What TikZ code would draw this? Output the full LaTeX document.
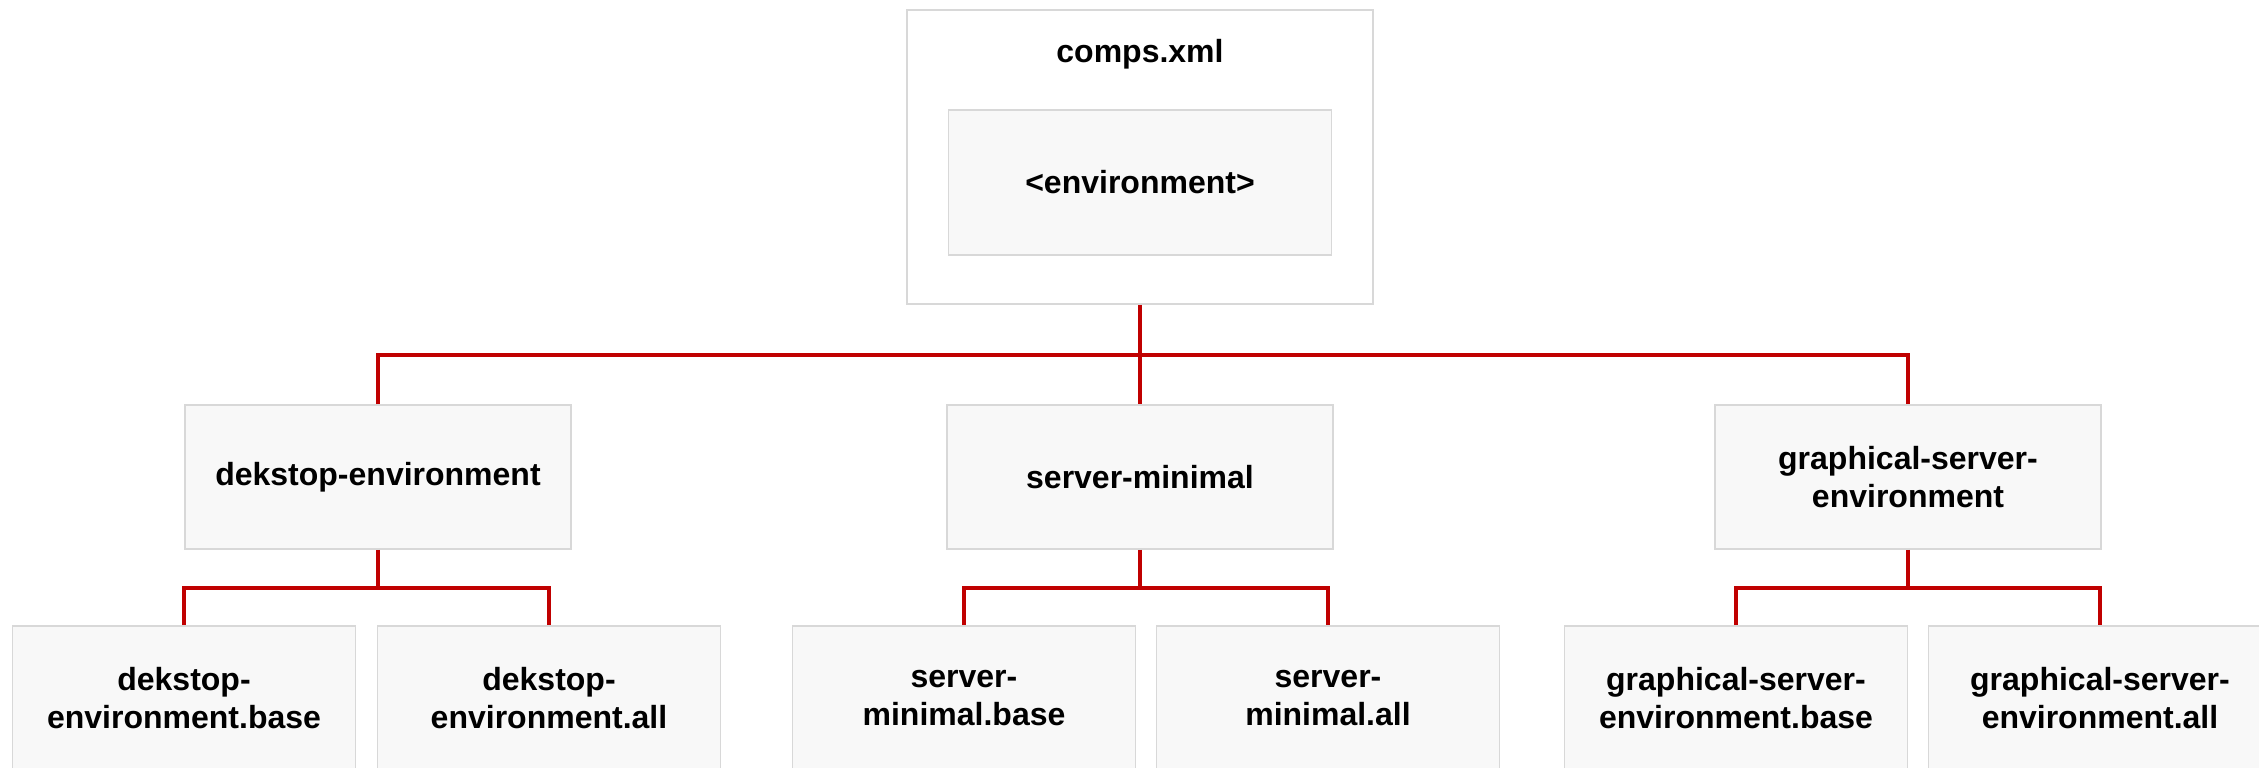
\documentclass[tikz,border=0pt]{standalone}
\usepackage{fontspec}
\setmainfont{Liberation Sans}
\usetikzlibrary{positioning}

\definecolor{boxgray}{HTML}{D8D8D8}
\definecolor{boxfill}{HTML}{F8F8F8}
\definecolor{linkred}{HTML}{C00000}

\def\boxfont{\fontsize{9.1}{10.8}\selectfont\bfseries}
\tikzset{
  env/.style={draw=boxgray,line width=.5pt,fill=boxfill,minimum width=3.86cm,minimum height=1.44cm,inner sep=0pt,align=center,font=\boxfont},
  pkg/.style={env,minimum width=3.43cm},
  link/.style={draw=linkred,line width=1.1pt}
}

\begin{document}
\begin{tikzpicture}[x=0.01cm,y=-0.01cm]
  \path[use as bounding box,clip] (0,0) rectangle (2259,768);
  % comps.xml
  \node[draw=boxgray,line width=.5pt,fill=white,minimum width=4.66cm,minimum height=2.94cm] (comps) at (1140,157) {};
  \node[font=\boxfont,anchor=base] (compstitle) at (1140,63) {comps.xml};
  \node[env,minimum width=3.83cm,minimum height=1.45cm] (envtag) at (1140,182.5) {<environment>};
  % environments
  \node[env] (desktop) at (378,477) {dekstop-environment};
  \node[env] (server) at (1140,477) {server-minimal};
  \node[env] (graphical) at (1908,477) {graphical-server-\\environment};
  % groups
  \foreach \name/\x/\txt in {desktopbase/184/{dekstop-\\environment.base},desktopall/549/{dekstop-\\environment.all},
                             serverbase/964/{server-\\minimal.base},serverall/1328/{server-\\minimal.all},
                             graphicalbase/1736/{graphical-server-\\environment.base},graphicalall/2100/{graphical-server-\\environment.all}} {
    \node[pkg] (\name) at (\x,698) {\txt};
  }
  \coordinate (topbus) at (1140,355);
  \coordinate (lowbus) at (0,588);
  \draw[link] (comps.south) -- (server.north);
  \draw[link] (desktop.north) |- (topbus) -| (graphical.north);
  \foreach \p in {desktop,server,graphical} {
    \draw[link] (\p.south) -- (\p.south |- lowbus);
    \draw[link] (\p base.north) |- (\p.south |- lowbus) -| (\p all.north);
  }
\end{tikzpicture}
\end{document}
